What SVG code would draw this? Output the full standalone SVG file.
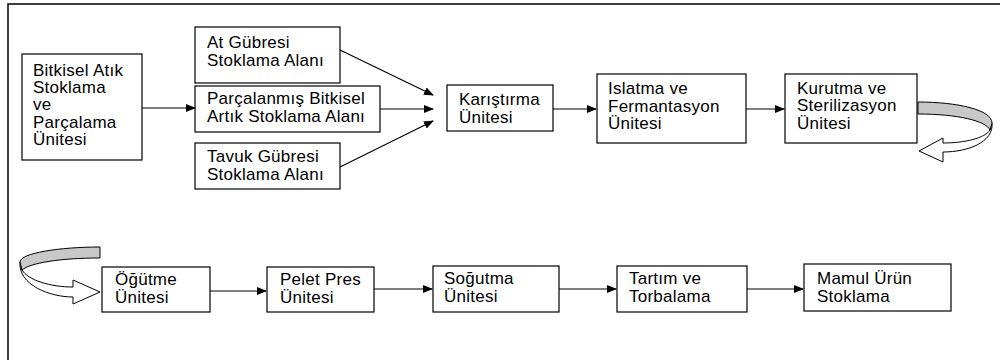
<svg xmlns="http://www.w3.org/2000/svg" width="1000" height="360" viewBox="0 0 1000 360">
<defs>
<marker id="ah" markerWidth="10" markerHeight="8" refX="9" refY="4" orient="auto" markerUnits="userSpaceOnUse">
<path d="M0,0 L10,4 L0,8 Z" fill="#000"/>
</marker>
</defs>
<style>
.box{fill:#fff;stroke:#000;stroke-width:1.2}
.t{font-family:"Liberation Sans",Arial,sans-serif;font-size:17px;letter-spacing:0.25px;fill:#000}
.c{stroke:#000;stroke-width:1.2;fill:none;marker-end:url(#ah)}
.band{fill:#c8c8c8;stroke:#000;stroke-width:1}
.wband{fill:#fff;stroke:#000;stroke-width:1}
</style>
<rect width="1000" height="360" fill="#fff"/>
<path d="M8,360 L8,4 L1000,4" fill="none" stroke="#000" stroke-width="1.5"/>

<g id="bitkisel">
<rect class="box" x="22" y="54" width="120" height="106"/>
<text class="t" x="33" y="76">Bitkisel Atık</text>
<text class="t" x="33" y="93">Stoklama</text>
<text class="t" x="33" y="110">ve</text>
<text class="t" x="33" y="128">Parçalama</text>
<text class="t" x="33" y="145">Ünitesi</text>
</g>
<g id="atgubresi">
<rect class="box" x="195" y="27" width="145" height="56"/>
<text class="t" x="207" y="48">At Gübresi</text>
<text class="t" x="207" y="66">Stoklama Alanı</text>
</g>
<g id="parcalanmis">
<rect class="box" x="195" y="86" width="185" height="46"/>
<text class="t" x="207" y="104">Parçalanmış Bitkisel</text>
<text class="t" x="207" y="122">Artık Stoklama Alanı</text>
</g>
<g id="tavuk">
<rect class="box" x="195" y="143" width="145" height="46"/>
<text class="t" x="207" y="162">Tavuk Gübresi</text>
<text class="t" x="207" y="180">Stoklama Alanı</text>
</g>
<g id="karistirma">
<rect class="box" x="447" y="85" width="106" height="46"/>
<text class="t" x="459" y="105">Karıştırma</text>
<text class="t" x="459" y="123">Ünitesi</text>
</g>
<g id="islatma">
<rect class="box" x="597" y="74" width="149" height="69"/>
<text class="t" x="608" y="94">Islatma ve</text>
<text class="t" x="608" y="112">Fermantasyon</text>
<text class="t" x="608" y="129">Ünitesi</text>
</g>
<g id="kurutma">
<rect class="box" x="785" y="74" width="132" height="69"/>
<text class="t" x="797" y="94">Kurutma ve</text>
<text class="t" x="797" y="111">Sterilizasyon</text>
<text class="t" x="797" y="129">Ünitesi</text>
</g>
<g id="ogutme">
<rect class="box" x="102" y="267" width="108" height="45"/>
<text class="t" x="115" y="285">Öğütme</text>
<text class="t" x="115" y="303">Ünitesi</text>
</g>
<g id="pelet">
<rect class="box" x="267" y="267" width="107" height="45"/>
<text class="t" x="280" y="285">Pelet Pres</text>
<text class="t" x="280" y="303">Ünitesi</text>
</g>
<g id="sogutma">
<rect class="box" x="433" y="266" width="126" height="46"/>
<text class="t" x="444" y="284">Soğutma</text>
<text class="t" x="444" y="302">Ünitesi</text>
</g>
<g id="tartim">
<rect class="box" x="617" y="266" width="130" height="46"/>
<text class="t" x="629" y="284">Tartım ve</text>
<text class="t" x="629" y="302">Torbalama</text>
</g>
<g id="mamul">
<rect class="box" x="804" y="264" width="147" height="47"/>
<text class="t" x="817" y="284">Mamul Ürün</text>
<text class="t" x="817" y="302">Stoklama</text>
</g>

<g id="connectors">
<line class="c" x1="142" y1="108" x2="195" y2="108"/>
<line class="c" x1="340" y1="50" x2="433" y2="95"/>
<line class="c" x1="380" y1="109" x2="433" y2="109"/>
<line class="c" x1="340" y1="167" x2="433" y2="121"/>
<line class="c" x1="553" y1="109" x2="596" y2="109"/>
<line class="c" x1="746" y1="109" x2="784" y2="109"/>
<line class="c" x1="210" y1="291" x2="266" y2="291"/>
<line class="c" x1="374" y1="289" x2="432" y2="289"/>
<line class="c" x1="559" y1="289" x2="616" y2="289"/>
<line class="c" x1="747" y1="289" x2="803" y2="289"/>
<g id="curve-top">
<path class="wband" d="M992,123 C994,142 968,152 943,152 L943,162 L919,151 L943,138 L943,143 C965,143 985,138 990,130 Z"/>
<path class="band" d="M918,102 C958,102 992,110 992,123 L990,130 C986,121 958,114 918,114 Z"/>
</g>
<g id="curve-bottom">
<path class="wband" d="M20,262 C18,285 50,297 73,297 L73,304 L100,292 L73,280 L73,287 C50,287 28,280 22,270 Z"/>
<path class="band" d="M100,247 C60,247 20,253 20,262 L22,270 C30,263 60,258 100,258 Z"/>
</g>
</g>
</svg>
